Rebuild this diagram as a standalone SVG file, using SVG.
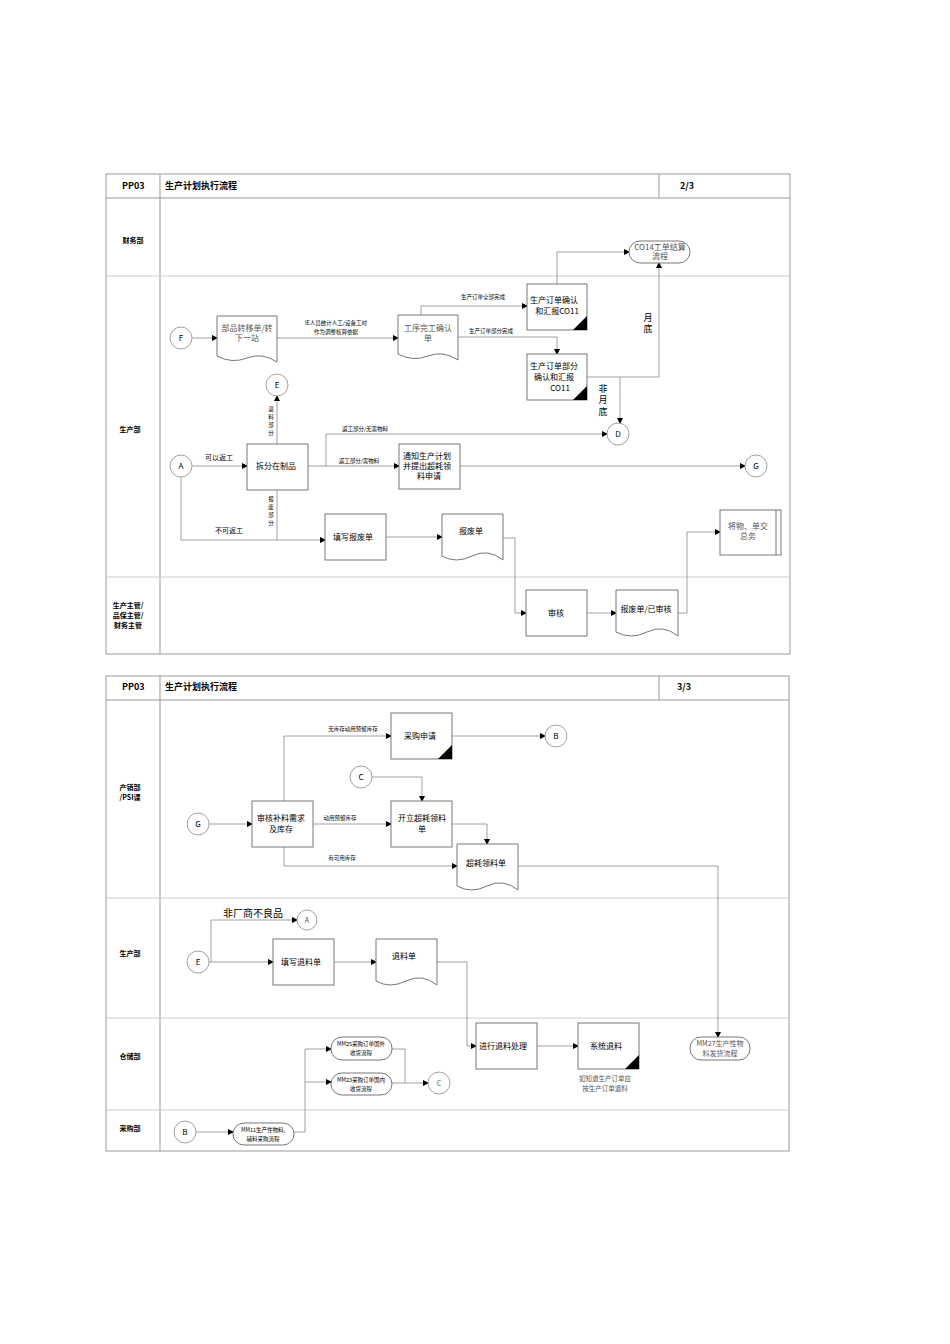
<svg xmlns="http://www.w3.org/2000/svg" width="950" height="1344" viewBox="0 0 950 1344">
<defs>
<marker id="ar" markerWidth="6" markerHeight="6" refX="5" refY="3" orient="auto" markerUnits="userSpaceOnUse"><path d="M0,0 L6,3 L0,6 z" fill="#000"/></marker>
<style>
text{font-family:"Noto Sans CJK SC","Liberation Sans",sans-serif;fill:#000}
.frame{fill:none;stroke:#999;stroke-width:1}
.lane{stroke:#ccc;stroke-width:1}
.box{fill:#fff;stroke:#777;stroke-width:1}
.c{fill:#fff;stroke:#888;stroke-width:0.8}
.ln{fill:none;stroke:#888;stroke-width:0.8;marker-end:url(#ar)}
.pl{fill:none;stroke:#888;stroke-width:0.8}
.t{font-size:8px;text-anchor:middle}
.s{font-size:5.5px;text-anchor:middle}
.h{font-size:9px;font-weight:bold}
.lb{font-size:7px;font-weight:bold;text-anchor:middle}
.g{font-size:8px;text-anchor:middle;fill:#555;font-family:"Noto Sans CJK SC",serif}
.tri{fill:#000}
</style>
</defs>
<rect width="950" height="1344" fill="#fff"/>
<!-- page 1 frame -->
<g id="frame1">
<rect class="frame" x="106" y="174" width="684" height="480"/>
<line class="frame" x1="106" y1="198" x2="790" y2="198"/>
<line class="frame" x1="160" y1="174" x2="160" y2="654"/>
<line class="frame" x1="659" y1="174" x2="659" y2="198"/>
<line class="lane" x1="106" y1="276" x2="790" y2="276"/>
<line class="lane" x1="106" y1="577" x2="790" y2="577"/>
<text class="h" x="122" y="189">PP03</text>
<text class="h" x="165" y="189">生产计划执行流程</text>
<text class="h" x="680" y="189">2/3</text>
<text class="lb" x="133" y="243">财务部</text>
<text class="lb" x="130" y="432">生产部</text>
<text class="lb" x="128" y="608">生产主管/</text>
<text class="lb" x="128" y="618">品保主管/</text>
<text class="lb" x="128" y="628">财务主管</text>
</g>
<!-- page 2 frame -->
<g id="frame2">
<rect class="frame" x="106" y="676" width="683" height="475"/>
<line class="frame" x1="106" y1="700" x2="789" y2="700"/>
<line class="frame" x1="160" y1="676" x2="160" y2="1151"/>
<line class="frame" x1="659" y1="676" x2="659" y2="700"/>
<line class="lane" x1="106" y1="898" x2="789" y2="898"/>
<line class="lane" x1="106" y1="1018" x2="789" y2="1018"/>
<line class="lane" x1="106" y1="1110" x2="789" y2="1110"/>
<text class="h" x="122" y="690">PP03</text>
<text class="h" x="165" y="690">生产计划执行流程</text>
<text class="h" x="677" y="690">3/3</text>
<text class="lb" x="130" y="790">产销部</text>
<text class="lb" x="130" y="800">/PSI课</text>
<text class="lb" x="130" y="956">生产部</text>
<text class="lb" x="130" y="1059">仓储部</text>
<text class="lb" x="130" y="1131">采购部</text>
</g>
<g id="connectors">
<path class="ln" d="M192,338 H217"/>
<path class="ln" d="M277,338 H398"/>
<text class="s" x="336" y="325">IE人员统计人工/设备工时</text>
<text class="s" x="336" y="334">作为调整核算依据</text>
<path class="ln" d="M421,315 V306 H527"/>
<text class="s" x="483" y="299">生产订单全部完成</text>
<path class="ln" d="M458,337 H557 V354"/>
<text class="s" x="491" y="333">生产订单部分完成</text>
<path class="ln" d="M557,284 V252 H629"/>
<path class="ln" d="M587,377 H659 V263"/>
<text x="648" y="321" style="font-size:9px;text-anchor:middle">月</text>
<text x="648" y="332" style="font-size:9px;text-anchor:middle">底</text>
<path class="ln" d="M620,377 V423"/>
<text x="603" y="392" style="font-size:9px;text-anchor:middle">非</text>
<text x="603" y="403" style="font-size:9px;text-anchor:middle">月</text>
<text x="603" y="415" style="font-size:9px;text-anchor:middle">底</text>
<path class="ln" d="M192,466 H247"/>
<text x="219" y="460" style="font-size:7px;text-anchor:middle">可以返工</text>
<path class="ln" d="M181,477 V540 H325"/>
<text x="229" y="533" style="font-size:7px;text-anchor:middle">不可返工</text>
<path class="ln" d="M277,444 V396"/>
<text class="s" x="271" y="411">退</text><text class="s" x="271" y="419">料</text><text class="s" x="271" y="427">部</text><text class="s" x="271" y="435">分</text>
<path class="pl" d="M277,490 V540"/>
<text class="s" x="271" y="501">报</text><text class="s" x="271" y="509">废</text><text class="s" x="271" y="517">部</text><text class="s" x="271" y="525">分</text>
<path class="ln" d="M308,466 H399"/>
<text class="s" x="359" y="463">返工部分/需物料</text>
<path class="ln" d="M326,466 V434 H607"/>
<text class="s" x="365" y="431">返工部分/无需物料</text>
<path class="ln" d="M460,466 H745"/>
<path class="ln" d="M386,537 H442"/>
<path class="ln" d="M503,538 H515 V613 H526"/>
<path class="ln" d="M587,613 H616"/>
<path class="ln" d="M678,613 H687 V532 H720"/>
<!-- page 2 -->
<path class="ln" d="M209,824 H252"/>
<path class="ln" d="M284,801 V736 H391"/>
<text class="s" x="353" y="731">无库存动用预留库存</text>
<path class="ln" d="M313,824 H391"/>
<text class="s" x="340" y="820">动用预留库存</text>
<path class="ln" d="M284,847 V866 H457"/>
<text class="s" x="342" y="860">有可用库存</text>
<path class="ln" d="M372,777 H422 V801"/>
<path class="ln" d="M452,824 H487 V844"/>
<path class="ln" d="M452,736 H545"/>
<path class="ln" d="M518,866 H718 V1037"/>
<path class="ln" d="M209,962 H273"/>
<path class="ln" d="M211,962 V920 H297"/>
<text x="253" y="917" style="font-size:10px;text-anchor:middle">非厂商不良品</text>
<path class="ln" d="M334,962 H376"/>
<path class="ln" d="M437,962 H467 V1046 H476"/>
<path class="ln" d="M537,1046 H578"/>
<path class="ln" d="M196,1132 H233"/>
<path class="ln" d="M294,1132 H305 V1049 H331"/>
<path class="ln" d="M305,1082 H331"/>
<path class="pl" d="M392,1049 H405 V1083"/>
<path class="ln" d="M392,1083 H428"/>
<text class="g" x="605" y="1081" style="font-size:6.5px">如知道生产订单应</text>
<text class="g" x="605" y="1091" style="font-size:6.5px">按生产订单退料</text>
</g>
<!-- page 1 nodes -->
<g id="F"><circle class="c" cx="181" cy="338" r="11"/><text class="t" x="181" y="341">F</text></g>
<g id="doc1"><path class="box" d="M217,316 H277 V362 Q262,352 247,358 T217,356 Z"/><text class="g" x="247" y="331">部品转移单/转</text><text class="g" x="247" y="341">下一站</text></g>
<g id="doc2"><path class="box" d="M398,315 H458 V360 Q443,350 428,356 T398,354 Z"/><text class="g" x="428" y="331">工序完工确认</text><text class="g" x="428" y="341">单</text></g>
<g id="co11a"><rect class="box" x="527" y="284" width="60" height="46"/><path class="tri" d="M587,316 V330 H573 Z"/><text class="t" x="554" y="303">生产订单确认</text><text class="t" x="557" y="314">和汇报CO11</text></g>
<g id="co11b"><rect class="box" x="527" y="354" width="60" height="46"/><path class="tri" d="M587,386 V400 H573 Z"/><text class="t" x="554" y="369">生产订单部分</text><text class="t" x="554" y="380">确认和汇报</text><text class="t" x="560" y="391">CO11</text></g>
<g id="co14"><rect class="box" x="629" y="241" width="61" height="22" rx="11"/><text class="g" x="660" y="250">CO14工单结算</text><text class="g" x="660" y="259">流程</text></g>
<g id="E1"><circle class="c" cx="277" cy="385" r="11"/><text class="t" x="277" y="388">E</text></g>
<g id="D"><circle class="c" cx="618" cy="434" r="11"/><text class="t" x="618" y="437">D</text></g>
<g id="A1"><circle class="c" cx="181" cy="466" r="11"/><text class="t" x="181" y="469">A</text></g>
<g id="split"><rect class="box" x="247" y="444" width="61" height="46"/><text class="t" x="276" y="469">拆分在制品</text></g>
<g id="notify"><rect class="box" x="399" y="444" width="61" height="45"/><text class="t" x="427" y="459">通知生产计划</text><text class="t" x="427" y="469">并提出超耗领</text><text class="t" x="429" y="479">料申请</text></g>
<g id="G1"><circle class="c" cx="756" cy="466" r="11"/><text class="t" x="756" y="469">G</text></g>
<g id="fillscrap"><rect class="box" x="325" y="514" width="61" height="46"/><text class="t" x="353" y="540">填写报废单</text></g>
<g id="scrapdoc"><path class="box" d="M442,514 H503 V560 Q488,548 472,556 T442,556 Z"/><text class="t" x="471" y="534">报废单</text></g>
<g id="handover"><rect class="box" x="720" y="510" width="61" height="45"/><line class="box" x1="776" y1="510" x2="776" y2="555"/><text class="g" x="748" y="529">将物、单交</text><text class="g" x="748" y="539">总务</text></g>
<g id="review"><rect class="box" x="526" y="590" width="61" height="46"/><text class="t" x="556" y="616">审核</text></g>
<g id="scrapok"><path class="box" d="M616,590 H678 V636 Q663,624 647,632 T616,632 Z"/><text class="t" x="646" y="612">报废单/已审核</text></g>
<!-- page 2 nodes -->
<g id="purreq"><rect class="box" x="391" y="713" width="61" height="46"/><path class="tri" d="M452,745 V759 H438 Z"/><text class="t" x="420" y="739">采购申请</text></g>
<g id="B1"><circle class="c" cx="556" cy="736" r="11"/><text class="t" x="556" y="739">B</text></g>
<g id="C1"><circle class="c" cx="361" cy="777" r="11"/><text class="t" x="361" y="780">C</text></g>
<g id="G2"><circle class="c" cx="198" cy="824" r="11"/><text class="t" x="198" y="827">G</text></g>
<g id="chk"><rect class="box" x="252" y="801" width="61" height="46"/><text class="t" x="281" y="821">审核补料需求</text><text class="t" x="281" y="832">及库存</text></g>
<g id="open"><rect class="box" x="391" y="801" width="61" height="46"/><text class="t" x="422" y="821">开立超耗领料</text><text class="t" x="422" y="832">单</text></g>
<g id="overdoc"><path class="box" d="M457,844 H518 V890 Q503,878 487,886 T457,886 Z"/><text class="t" x="486" y="866">超耗领料单</text></g>
<g id="A2"><circle class="c" cx="307" cy="920" r="10"/><text class="g" x="307" y="923" style="font-size:7px">A</text></g>
<g id="E2"><circle class="c" cx="198" cy="962" r="11"/><text class="t" x="198" y="965">E</text></g>
<g id="fillret"><rect class="box" x="273" y="939" width="61" height="46"/><text class="t" x="301" y="965">填写退料单</text></g>
<g id="retdoc"><path class="box" d="M376,939 H437 V985 Q422,973 406,981 T376,981 Z"/><text class="t" x="404" y="959">退料单</text></g>
<g id="proc"><rect class="box" x="476" y="1023" width="61" height="46"/><text class="t" x="503" y="1049">进行退料处理</text></g>
<g id="sysret"><rect class="box" x="578" y="1023" width="61" height="46"/><path class="tri" d="M639,1055 V1069 H625 Z"/><text class="t" x="606" y="1049">系统退料</text></g>
<g id="mm27"><rect class="box" x="690" y="1037" width="60" height="23" rx="11"/><text class="g" x="720" y="1046" style="font-size:7px">MM27生产性物</text><text class="g" x="720" y="1056" style="font-size:7px">料发货流程</text></g>
<g id="mm25"><rect class="box" x="331" y="1037" width="61" height="23" rx="11"/><text class="s" x="361" y="1046">MM25采购订单国外</text><text class="s" x="361" y="1055">收货流程</text></g>
<g id="mm23"><rect class="box" x="331" y="1073" width="61" height="22" rx="11"/><text class="s" x="361" y="1082">MM23采购订单国内</text><text class="s" x="361" y="1091">收货流程</text></g>
<g id="C2"><circle class="c" cx="439" cy="1083" r="11"/><text class="g" x="439" y="1086" style="font-size:7px">C</text></g>
<g id="B2"><circle class="c" cx="185" cy="1132" r="11"/><text class="t" x="185" y="1135">B</text></g>
<g id="mm11"><rect class="box" x="233" y="1123" width="61" height="22" rx="11"/><text class="s" x="263" y="1132">MM11生产性物料,</text><text class="s" x="263" y="1141">辅料采购流程</text></g>
</svg>
